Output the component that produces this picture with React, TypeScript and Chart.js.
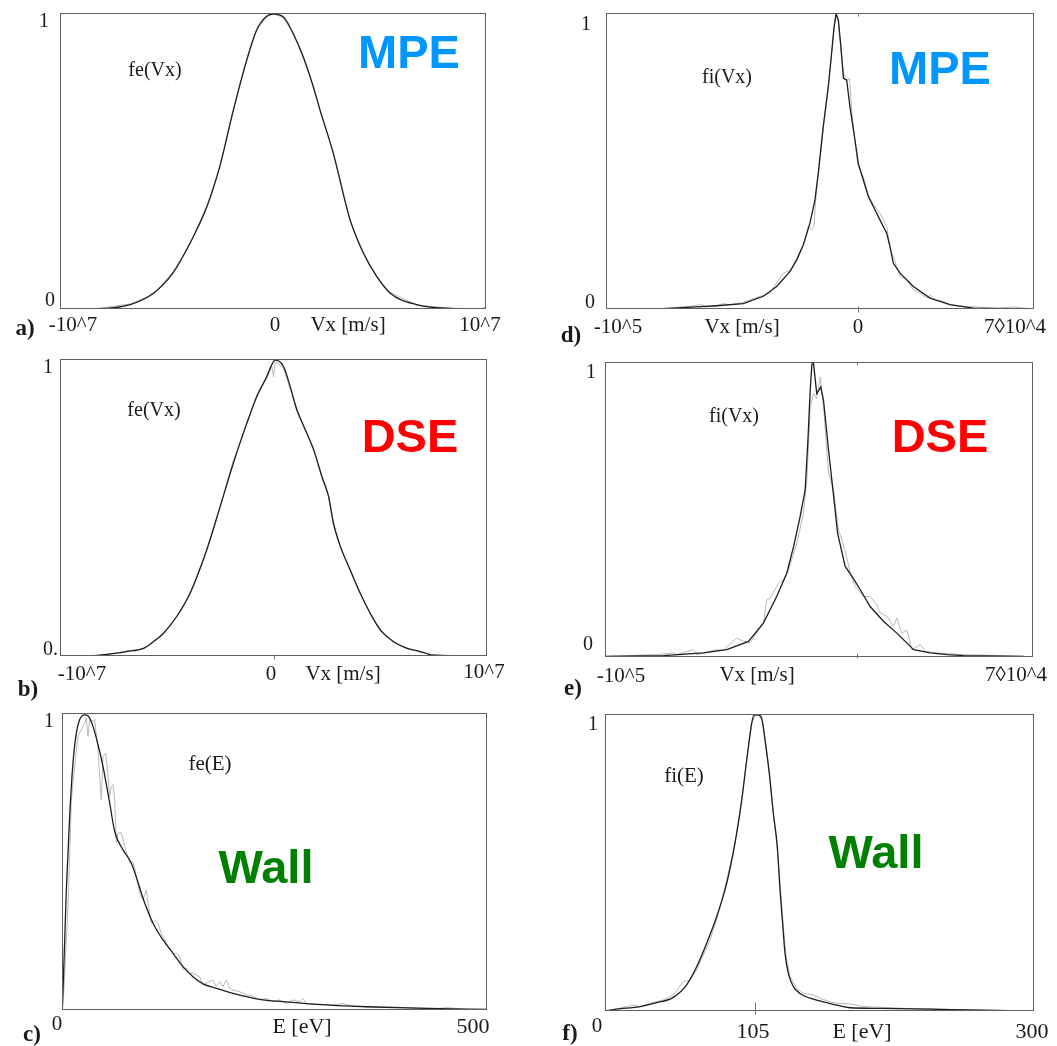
import { useEffect, useRef } from "react";
import { Chart, registerables } from "chart.js";

Chart.register(...registerables);

// ---------- a) electron velocity distribution, MPE ----------
const aFitV = [-1e7, -8.3e6, -6.7e6, -5.6e6, -4.7e6, -3.9e6, -3.1e6, -2.5e6, -1.86e6, -1.24e6, -7.7e5, -3.0e5, 2e4, 4.8e5, 9.5e5, 1.42e6, 1.89e6, 2.21e6, 2.83e6, 3.62e6, 4.24e6, 4.87e6, 5.49e6, 6.74e6, 8.31e6, 9.72e6, 1e7];
const aFitF = [0, 0.001, 0.015, 0.054, 0.121, 0.222, 0.346, 0.481, 0.672, 0.84, 0.942, 0.989, 0.996, 0.987, 0.93, 0.852, 0.751, 0.672, 0.526, 0.301, 0.189, 0.11, 0.054, 0.015, 0.002, 0.001, 0.003];
const aRawV = [-1e7, -8.3e6, -6.7e6, -5.6e6, -4.7e6, -3.9e6, -3.1e6, -2.5e6, -1.86e6, -1.24e6, -7.7e5, -3.0e5, 2e4, 4.8e5, 9.5e5, 1.42e6, 1.89e6, 2.21e6, 2.83e6, 3.62e6, 4.24e6, 4.87e6, 5.49e6, 6.74e6, 8.31e6, 1e7];
const aRawF = [0, 0.001, 0.017, 0.05, 0.125, 0.218, 0.35, 0.478, 0.676, 0.836, 0.945, 0.985, 1.0, 0.983, 0.934, 0.848, 0.755, 0.668, 0.53, 0.297, 0.192, 0.107, 0.057, 0.013, 0.003, 0];

// ---------- b) electron velocity distribution, DSE ----------
const bFitV = [-1e7, -8.59e6, -8.13e6, -6.88e6, -6.09e6, -5.63e6, -5.16e6, -4.53e6, -3.91e6, -3.13e6, -2.5e6, -1.88e6, -1.25e6, -7.8e5, -3.1e5, -8e4, 8e4, 2.3e5, 4.7e5, 7.8e5, 1.09e6, 1.41e6, 1.88e6, 2.27e6, 2.58e6, 2.81e6, 3.13e6, 3.59e6, 4.06e6, 4.53e6, 5.0e6, 5.63e6, 6.25e6, 6.88e6, 7.5e6, 9.06e6, 1e7];
const bFitF = [0, 0, 0.003, 0.015, 0.026, 0.048, 0.076, 0.133, 0.211, 0.357, 0.503, 0.649, 0.784, 0.874, 0.942, 0.981, 0.996, 0.994, 0.975, 0.908, 0.829, 0.775, 0.694, 0.604, 0.537, 0.447, 0.369, 0.29, 0.211, 0.144, 0.088, 0.048, 0.026, 0.015, 0.003, 0.001, 0];
const bRawV = [-1e7, -8.6e6, -7.5e6, -6.9e6, -6.1e6, -5.6e6, -5.2e6, -4.5e6, -3.9e6, -3.1e6, -2.5e6, -1.9e6, -1.25e6, -7.8e5, -3.1e5, -8e4, 0, 8e4, 2.3e5, 4.7e5, 7.8e5, 1.09e6, 1.41e6, 1.88e6, 2.27e6, 2.58e6, 2.81e6, 3.13e6, 3.59e6, 4.06e6, 4.53e6, 5.0e6, 5.63e6, 6.25e6, 6.88e6, 7.5e6, 9.1e6, 1e7];
const bRawF = [0, 0.001, 0.008, 0.017, 0.024, 0.05, 0.072, 0.138, 0.207, 0.36, 0.5, 0.655, 0.78, 0.88, 0.935, 0.975, 0.94, 0.99, 0.985, 0.968, 0.9, 0.835, 0.77, 0.7, 0.598, 0.54, 0.44, 0.372, 0.286, 0.215, 0.14, 0.09, 0.045, 0.028, 0.012, 0.004, 0, 0];

// ---------- c) electron energy distribution at the wall ----------
const cFitE = [0, 1.2, 5.1, 9.0, 12.9, 16.9, 20.8, 26.7, 30.6, 36.5, 42.4, 48.2, 56.1, 62.0, 71.8, 81.6, 97.3, 107.1, 118.8, 130.6, 142.4, 154.1, 165.9, 181.6, 201.2, 232.5, 260.0, 299.2, 358.0, 416.9, 499.2];
const cFitF = [0, 0.067, 0.404, 0.652, 0.831, 0.933, 0.978, 0.994, 0.991, 0.955, 0.893, 0.82, 0.697, 0.601, 0.539, 0.494, 0.36, 0.292, 0.236, 0.191, 0.146, 0.112, 0.088, 0.073, 0.056, 0.036, 0.028, 0.019, 0.011, 0.006, 0.002];
const cRawE = [1.2, 7.1, 11.0, 14.9, 18.8, 22.7, 26.7, 28.6, 30.6, 32.5, 36.5, 38.4, 42.4, 44.3, 46.3, 48.2, 51.4, 54.1, 56.1, 58.0, 60.0, 62.0, 63.9, 65.9, 69.8, 73.7, 79.6, 83.5, 87.5, 91.4, 95.3, 99.2, 101.2, 105.1, 109.0, 112.9, 116.9, 122.7, 130.6, 134.5, 138.4, 142.4, 146.3, 150.2, 154.1, 158.0, 162.0, 165.9, 169.8, 177.6, 181.6, 185.5, 189.4, 193.3, 197.3, 201.2, 209.0, 216.9, 224.7, 232.5, 240.4, 248.2, 256.1, 263.9, 271.8, 279.6, 283.5, 287.5, 299.2, 318.8, 330.6, 342.4, 358.0, 377.6, 397.3, 416.9, 436.5, 452.2, 475.7, 499.2];
const cRawF = [0.011, 0.348, 0.708, 0.82, 0.921, 0.944, 0.966, 0.983, 0.921, 0.978, 0.972, 0.978, 0.876, 0.787, 0.708, 0.854, 0.865, 0.787, 0.719, 0.753, 0.758, 0.708, 0.562, 0.596, 0.596, 0.551, 0.494, 0.5, 0.449, 0.393, 0.371, 0.404, 0.36, 0.292, 0.303, 0.292, 0.258, 0.225, 0.191, 0.191, 0.18, 0.135, 0.14, 0.124, 0.124, 0.118, 0.112, 0.084, 0.09, 0.101, 0.079, 0.096, 0.079, 0.101, 0.073, 0.067, 0.062, 0.051, 0.047, 0.034, 0.039, 0.028, 0.034, 0.022, 0.034, 0.028, 0.039, 0.022, 0.02, 0.017, 0.022, 0.013, 0.011, 0.009, 0.009, 0.007, 0.004, 0.008, 0.003, 0.002];

// ---------- d) ion velocity distribution, MPE ----------
const dFitV = [-100000, -77000, -64000, -56000, -45500, -37500, -32200, -26900, -24300, -21600, -19000, -17000, -15700, -13700, -11700, -10400, -9400, -8600, -7700, -6800, -5700, -4400, -3100, -1100, 200, 2200, 4200, 6200, 8800, 11500, 12800, 14100, 16800, 22100, 28700, 36600, 45900, 68400];
const dFitF = [0, 0.001, 0.007, 0.011, 0.018, 0.043, 0.076, 0.127, 0.166, 0.217, 0.29, 0.369, 0.458, 0.616, 0.751, 0.863, 0.953, 0.998, 0.975, 0.897, 0.779, 0.773, 0.683, 0.571, 0.492, 0.436, 0.38, 0.346, 0.301, 0.256, 0.211, 0.155, 0.121, 0.076, 0.037, 0.015, 0.003, 0];
const dRawV = [-100000, -77200, -66600, -62000, -60000, -56000, -53400, -50700, -45500, -42800, -38800, -34900, -29600, -26900, -24300, -21600, -19600, -18300, -17400, -16600, -15300, -13700, -11700, -10400, -9400, -8600, -7800, -7100, -5700, -4700, -3300, -2400, -1100, 200, 2200, 4200, 6200, 8800, 11500, 12800, 14100, 16800, 19400, 22100, 24700, 27400, 28700, 30700, 34000, 36600, 40600, 47200, 55200, 61800, 68400];
const dRawF = [0, 0.002, 0.009, 0.015, 0.007, 0.011, 0.018, 0.015, 0.022, 0.031, 0.043, 0.054, 0.121, 0.13, 0.161, 0.217, 0.279, 0.267, 0.279, 0.38, 0.481, 0.616, 0.751, 0.863, 0.953, 0.992, 0.981, 0.908, 0.801, 0.773, 0.779, 0.672, 0.56, 0.481, 0.447, 0.385, 0.352, 0.324, 0.279, 0.206, 0.178, 0.11, 0.099, 0.065, 0.054, 0.037, 0.048, 0.031, 0.026, 0.015, 0.009, 0.007, 0.002, 0.007, 0.001];

// ---------- e) ion velocity distribution, DSE ----------
const eFitV = [-100000, -76800, -60900, -51600, -43000, -37100, -31800, -27800, -25100, -22500, -20500, -19400, -18500, -17800, -17200, -15900, -14300, -13200, -11200, -9900, -8600, -7600, -4600, -1900, 1400, 5300, 10600, 15900, 22600, 29200, 35800, 42400, 66300];
const eFitF = [0.002, 0.005, 0.014, 0.025, 0.053, 0.115, 0.205, 0.284, 0.374, 0.476, 0.566, 0.735, 0.904, 0.994, 0.997, 0.893, 0.915, 0.87, 0.701, 0.6, 0.498, 0.419, 0.307, 0.273, 0.228, 0.171, 0.121, 0.081, 0.025, 0.014, 0.008, 0.005, 0.002];
const eRawV = [-100000, -90100, -79500, -72800, -71500, -64900, -63600, -58300, -55600, -53000, -47700, -45000, -42400, -37100, -35700, -34400, -31100, -29100, -27100, -23800, -21200, -19800, -18500, -17200, -15900, -14500, -13200, -11200, -9200, -7300, -5900, -3900, -2600, -600, 2700, 5300, 8000, 9300, 12000, 14600, 15900, 17900, 19900, 21900, 25200, 27200, 31800, 42400, 55700, 66300];
const eRawF = [0.002, 0.005, 0.008, 0.014, 0.008, 0.025, 0.008, 0.019, 0.025, 0.023, 0.064, 0.053, 0.047, 0.115, 0.194, 0.2, 0.25, 0.262, 0.295, 0.386, 0.487, 0.6, 0.848, 0.893, 0.876, 0.949, 0.848, 0.622, 0.566, 0.431, 0.397, 0.335, 0.284, 0.239, 0.205, 0.205, 0.177, 0.149, 0.138, 0.104, 0.132, 0.081, 0.092, 0.025, 0.042, 0.019, 0.014, 0.008, 0.005, 0.002];

// ---------- f) ion energy distribution at the wall ----------
const fFitE = [0, 8.2, 24.5, 36.1, 47.8, 57.1, 64.1, 71.1, 78.1, 85.1, 90.9, 95.6, 99.1, 102.6, 104.2, 107.2, 109.6, 111.9, 114.9, 117.7, 120.5, 122.4, 124.2, 125.9, 128.2, 131.7, 136.4, 143.4, 152.7, 162.0, 171.3, 192.3, 227.3, 273.9, 298.4];
const fFitF = [0, 0.006, 0.015, 0.028, 0.046, 0.088, 0.149, 0.228, 0.318, 0.43, 0.565, 0.71, 0.845, 0.969, 0.996, 0.997, 0.985, 0.912, 0.8, 0.666, 0.553, 0.407, 0.295, 0.194, 0.127, 0.082, 0.059, 0.043, 0.031, 0.02, 0.011, 0.009, 0.006, 0.002, 0];
const fRawE = [0, 8.2, 15.2, 19.8, 24.5, 31.5, 40.8, 47.8, 54.8, 59.4, 64.1, 73.4, 78.1, 85.1, 90.9, 95.6, 99.1, 102.6, 104.9, 107.2, 110.0, 112.4, 114.9, 117.7, 120.5, 122.8, 124.7, 126.6, 129.4, 134.0, 138.7, 145.7, 150.3, 157.3, 162.0, 171.3, 180.7, 194.6, 208.6, 227.3, 250.6, 273.9, 294.9];
const fRawF = [0, 0.007, 0.015, 0.02, 0.015, 0.026, 0.037, 0.054, 0.099, 0.104, 0.138, 0.239, 0.306, 0.441, 0.565, 0.71, 0.845, 0.969, 0.993, 0.996, 0.98, 0.901, 0.8, 0.666, 0.542, 0.407, 0.284, 0.183, 0.116, 0.076, 0.059, 0.054, 0.043, 0.031, 0.026, 0.024, 0.015, 0.012, 0.009, 0.007, 0.004, 0.002, 0.001];

// ---------- figure layout ----------
const SERIF = '"Liberation Serif", "Times New Roman", serif';
const SANS = '"Liberation Sans", Arial, sans-serif';
const BLUE = "#0096ff";
const RED = "#ff0000";
const GREEN = "#008000";

type Txt = { t: string; x: number; y: number; font: string; color?: string; align?: CanvasTextAlign };
type Rect = { left: number; top: number; width: number; height: number };
type Box = { left: number; top: number; right: number; bottom: number };
type AxisTick = { v: number; up: number; down: number };

type PanelDef = {
  key: string;
  canvas: Rect;
  box: Box;
  xMin: number;
  xMax: number;
  fitX: number[];
  fitY: number[];
  rawX: number[];
  rawY: number[];
  smooth: boolean;
  bottomTicks: AxisTick[];
  topTicks: AxisTick[];
  texts: Txt[];
};

const tick = (s: number) => `${s}px ${SERIF}`;
const letter = `bold 23px ${SERIF}`;
const tag = `bold 47px ${SANS}`;

const panels: PanelDef[] = [
  {
    key: "a",
    canvas: { left: 0, top: 0, width: 530, height: 360 },
    box: { left: 60, top: 13, right: 486, bottom: 309 },
    xMin: -1e7, xMax: 1e7,
    fitX: aFitV, fitY: aFitF, rawX: aRawV, rawY: aRawF, smooth: true,
    bottomTicks: [], topTicks: [],
    texts: [
      { t: "1", x: 44, y: 27, font: tick(20) },
      { t: "0", x: 50, y: 306, font: tick(20) },
      { t: "-10^7", x: 73, y: 331, font: tick(21) },
      { t: "0", x: 275, y: 331, font: tick(21) },
      { t: "Vx [m/s]", x: 348, y: 331, font: tick(21) },
      { t: "10^7", x: 480, y: 331, font: tick(21) },
      { t: "a)", x: 25, y: 335, font: letter },
      { t: "fe(Vx)", x: 155, y: 76, font: tick(20) },
      { t: "MPE", x: 409, y: 68, font: tag, color: BLUE },
    ],
  },
  {
    key: "b",
    canvas: { left: 0, top: 345, width: 530, height: 365 },
    box: { left: 60, top: 359, right: 487, bottom: 656 },
    xMin: -1e7, xMax: 1e7,
    fitX: bFitV, fitY: bFitF, rawX: bRawV, rawY: bRawF, smooth: true,
    bottomTicks: [{ v: 0, up: 0, down: 4 }], topTicks: [],
    texts: [
      { t: "1", x: 48, y: 373, font: tick(20) },
      { t: "0.", x: 43, y: 655, font: tick(20), align: "left" },
      { t: "-10^7", x: 82, y: 680, font: tick(21) },
      { t: "0", x: 271, y: 680, font: tick(21) },
      { t: "Vx [m/s]", x: 343, y: 680, font: tick(21) },
      { t: "10^7", x: 484, y: 678, font: tick(21) },
      { t: "b)", x: 28, y: 696, font: letter },
      { t: "fe(Vx)", x: 154, y: 416, font: tick(20) },
      { t: "DSE", x: 410, y: 452, font: tag, color: RED },
    ],
  },
  {
    key: "c",
    canvas: { left: 0, top: 695, width: 530, height: 351 },
    box: { left: 62, top: 713, right: 487, bottom: 1010 },
    xMin: 0, xMax: 500,
    fitX: cFitE, fitY: cFitF, rawX: cRawE, rawY: cRawF, smooth: true,
    bottomTicks: [], topTicks: [],
    texts: [
      { t: "1", x: 49, y: 727, font: tick(20) },
      { t: "0", x: 57, y: 1030, font: tick(21) },
      { t: "E [eV]", x: 302, y: 1033, font: tick(22) },
      { t: "500", x: 473, y: 1033, font: tick(22) },
      { t: "c)", x: 32, y: 1041, font: letter },
      { t: "fe(E)", x: 210, y: 770, font: tick(21) },
      { t: "Wall", x: 266, y: 883, font: tag, color: GREEN },
    ],
  },
  {
    key: "d",
    canvas: { left: 530, top: 0, width: 527, height: 360 },
    box: { left: 606, top: 13, right: 1034, bottom: 309 },
    xMin: -1e5, xMax: 7e4,
    fitX: dFitV, fitY: dFitF, rawX: dRawV, rawY: dRawF, smooth: false,
    bottomTicks: [{ v: 0, up: 2, down: 4 }], topTicks: [{ v: 0, up: 0, down: 3 }],
    texts: [
      { t: "1", x: 586, y: 30, font: tick(20) },
      { t: "0", x: 590, y: 308, font: tick(20) },
      { t: "-10^5", x: 618, y: 333, font: tick(21) },
      { t: "Vx [m/s]", x: 742, y: 333, font: tick(21) },
      { t: "0", x: 858, y: 333, font: tick(21) },
      { t: "7◊10^4", x: 1015, y: 333, font: tick(21) },
      { t: "d)", x: 571, y: 342, font: letter },
      { t: "fi(Vx)", x: 727, y: 83, font: tick(20) },
      { t: "MPE", x: 940, y: 84, font: tag, color: BLUE },
    ],
  },
  {
    key: "e",
    canvas: { left: 530, top: 345, width: 527, height: 365 },
    box: { left: 605, top: 362, right: 1033, bottom: 657 },
    xMin: -1e5, xMax: 7e4,
    fitX: eFitV, fitY: eFitF, rawX: eRawV, rawY: eRawF, smooth: false,
    bottomTicks: [{ v: 0, up: 3, down: 2 }], topTicks: [{ v: 0, up: 0, down: 3 }],
    texts: [
      { t: "1", x: 591, y: 378, font: tick(20) },
      { t: "0", x: 588, y: 650, font: tick(20) },
      { t: "-10^5", x: 621, y: 682, font: tick(21) },
      { t: "Vx [m/s]", x: 757, y: 681, font: tick(21) },
      { t: "7◊10^4", x: 1016, y: 681, font: tick(21) },
      { t: "e)", x: 573, y: 695, font: letter },
      { t: "fi(Vx)", x: 734, y: 422, font: tick(20) },
      { t: "DSE", x: 940, y: 452, font: tag, color: RED },
    ],
  },
  {
    key: "f",
    canvas: { left: 530, top: 695, width: 527, height: 351 },
    box: { left: 605, top: 714, right: 1034, bottom: 1011 },
    xMin: 0, xMax: 300,
    fitX: fFitE, fitY: fFitF, rawX: fRawE, rawY: fRawF, smooth: true,
    bottomTicks: [{ v: 105, up: 8, down: 4 }], topTicks: [],
    texts: [
      { t: "1", x: 593, y: 730, font: tick(20) },
      { t: "0", x: 597, y: 1032, font: tick(21) },
      { t: "105", x: 753, y: 1038, font: tick(22) },
      { t: "E [eV]", x: 862, y: 1038, font: tick(22) },
      { t: "300", x: 1032, y: 1038, font: tick(22) },
      { t: "f)", x: 570, y: 1040, font: letter },
      { t: "fi(E)", x: 684, y: 782, font: tick(21) },
      { t: "Wall", x: 876, y: 868, font: tag, color: GREEN },
    ],
  },
];

// Frame, axis ticks and all annotation text of one panel.
function decorations(p: PanelDef) {
  return {
    id: `decor-${p.key}`,
    afterDraw(chart: any) {
      const { ctx, chartArea: a } = chart;
      const xs = chart.scales.x;
      ctx.save();
      ctx.strokeStyle = "#5f5f5f";
      ctx.lineWidth = 1;
      const l = Math.round(a.left) + 0.5;
      const t = Math.round(a.top) + 0.5;
      const r = Math.round(a.right) - 0.5;
      const b = Math.round(a.bottom) - 0.5;
      ctx.strokeRect(l, t, r - l, b - t);

      ctx.strokeStyle = "#777";
      for (const k of p.bottomTicks) {
        const px = Math.round(xs.getPixelForValue(k.v)) + 0.5;
        ctx.beginPath();
        ctx.moveTo(px, b - k.up);
        ctx.lineTo(px, b + k.down);
        ctx.stroke();
      }
      for (const k of p.topTicks) {
        const px = Math.round(xs.getPixelForValue(k.v)) + 0.5;
        ctx.beginPath();
        ctx.moveTo(px, t - k.up);
        ctx.lineTo(px, t + k.down);
        ctx.stroke();
      }

      ctx.textBaseline = "alphabetic";
      for (const s of p.texts) {
        ctx.font = s.font;
        ctx.fillStyle = s.color ?? "#1a1a1a";
        ctx.textAlign = s.align ?? "center";
        ctx.fillText(s.t, s.x - p.canvas.left, s.y - p.canvas.top);
      }
      ctx.restore();
    },
  };
}

function DistributionPanel({ p }: { p: PanelDef }) {
  const ref = useRef<HTMLCanvasElement | null>(null);

  useEffect(() => {
    const canvas = ref.current;
    if (!canvas) return;
    const c = p.canvas;
    const chart = new Chart(canvas, {
      type: "line",
      data: {
        datasets: [
          {
            data: p.fitX.map((x, i) => ({ x, y: p.fitY[i] })),
            borderColor: "#1e1e1e",
            borderWidth: 1.3,
            pointRadius: 0,
            tension: 0,
            cubicInterpolationMode: p.smooth ? "monotone" : "default",
            order: 0,
          },
          {
            data: p.rawX.map((x, i) => ({ x, y: p.rawY[i] })),
            borderColor: "#b8b8b8",
            borderWidth: 1,
            pointRadius: 0,
            tension: 0,
            order: 1,
          },
        ],
      },
      options: {
        responsive: false,
        animation: false,
        events: [],
        layout: {
          padding: {
            left: p.box.left - c.left,
            top: p.box.top - c.top,
            right: c.left + c.width - p.box.right,
            bottom: c.top + c.height - p.box.bottom,
          },
        },
        plugins: {
          legend: { display: false },
          tooltip: { enabled: false },
          title: { display: false },
        },
        scales: {
          x: { type: "linear", min: p.xMin, max: p.xMax, display: false },
          y: { type: "linear", min: 0, max: 1, display: false },
        },
      },
      plugins: [decorations(p)],
    } as any);
    return () => chart.destroy();
  }, [p]);

  return (
    <canvas
      ref={ref}
      width={p.canvas.width}
      height={p.canvas.height}
      style={{
        position: "absolute",
        left: p.canvas.left,
        top: p.canvas.top,
        width: p.canvas.width,
        height: p.canvas.height,
      }}
    />
  );
}

export default function App() {
  return (
    <div
      style={{
        position: "absolute",
        left: 0,
        top: 0,
        width: 1057,
        height: 1046,
        background: "#ffffff",
        overflow: "hidden",
      }}
    >
      {panels.map((p) => (
        <DistributionPanel key={p.key} p={p} />
      ))}
    </div>
  );
}
